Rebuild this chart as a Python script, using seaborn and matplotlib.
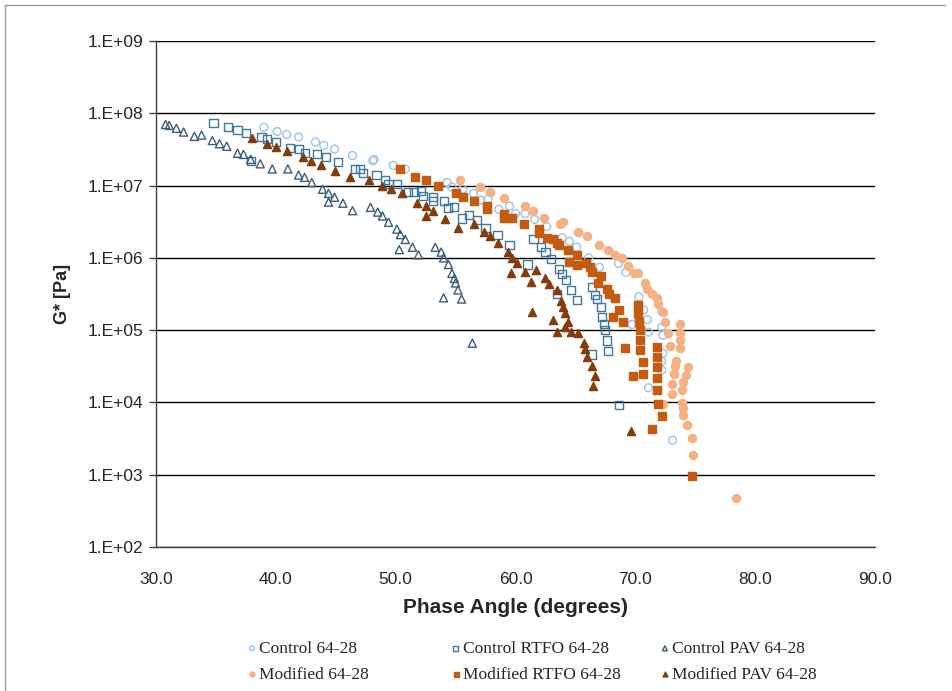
import numpy as np
import pandas as pd
import matplotlib
matplotlib.use("Agg")
import matplotlib.pyplot as plt
from matplotlib.lines import Line2D
import seaborn as sns

# ---------------- data (phase angle in degrees, G* in Pa) ----------------
ctrl_x = [39.0, 40.1, 40.9, 41.9, 43.3, 44.0, 44.9, 46.4, 48.1, 48.2, 49.8, 50.8,
          54.3, 54.7, 55.6, 56.5, 57.1, 57.7, 58.6, 59.5, 60.0, 60.8, 61.6, 62.6,
          63.9, 64.5, 65.1, 66.1, 67.0, 68.6, 69.2, 70.3, 70.7, 71.0, 69.7, 71.1,
          72.2, 72.2, 72.3, 72.3, 72.2, 72.2, 71.1, 73.1]
ctrl_g = [6.4e7, 5.6e7, 5.1e7, 4.7e7, 4.0e7, 3.6e7, 3.2e7, 2.6e7, 2.2e7, 2.3e7, 1.9e7, 1.7e7,
          1.1e7, 9.5e6, 8.9e6, 7.8e6, 6.3e6, 6.5e6, 4.7e6, 5.2e6, 4.1e6, 4.1e6, 3.4e6, 2.7e6,
          1.9e6, 1.7e6, 1.4e6, 1.0e6, 7.4e5, 8.4e5, 6.3e5, 2.9e5, 1.9e5, 1.4e5, 1.2e5, 9.4e4,
          1.8e5, 1.1e5, 8.5e4, 4.8e4, 3.7e4, 2.8e4, 1.6e4, 3.0e3]

ctrl_rtfo_x = [34.8, 36.0, 36.8, 37.5, 37.9, 38.8, 39.3, 40.0, 41.2, 41.9, 42.4, 43.4,
               44.2, 45.2, 46.6, 47.0, 47.3, 48.4, 49.1, 49.4, 50.1, 51.0, 51.5, 52.1,
               52.3, 53.1, 53.1, 54.0, 54.4, 54.9, 55.5, 56.1, 56.8, 57.5, 58.5, 59.5,
               61.0, 61.5, 62.1, 62.5, 63.0, 63.5, 63.6, 63.9, 64.2, 64.6, 65.1, 66.4,
               66.6, 66.8, 67.1, 67.2, 67.4, 67.5, 67.6, 67.7, 66.4, 68.6]
ctrl_rtfo_g = [7.3e7, 6.4e7, 5.8e7, 5.3e7, 2.2e7, 4.7e7, 4.4e7, 4.0e7, 3.3e7, 3.2e7, 2.8e7, 2.7e7,
               2.5e7, 2.1e7, 1.7e7, 1.7e7, 1.5e7, 1.4e7, 1.2e7, 1.04e7, 1.04e7, 8.1e6, 8.1e6, 8.3e6,
               7.1e6, 6.9e6, 6.1e6, 6.1e6, 4.9e6, 5.0e6, 3.5e6, 3.9e6, 3.3e6, 2.6e6, 2.1e6, 1.5e6,
               8.1e5, 1.8e6, 1.4e6, 1.2e6, 9.6e5, 3.2e5, 7.0e5, 5.9e5, 4.9e5, 3.6e5, 2.6e5, 4.0e5,
               3.1e5, 2.7e5, 2.1e5, 1.5e5, 1.2e5, 1.0e5, 7.2e4, 5.1e4, 4.6e4, 9.1e3]

ctrl_pav_x = [30.8, 31.1, 31.7, 32.3, 33.2, 33.8, 34.7, 35.3, 35.9, 36.8, 37.3, 37.9,
              38.7, 39.7, 41.0, 41.9, 42.4, 43.0, 43.9, 44.4, 44.4, 44.9, 45.6, 46.4,
              47.9, 48.5, 48.9, 49.4, 50.1, 50.4, 50.8, 50.3, 51.4, 51.9, 53.3, 53.8,
              54.0, 54.4, 54.7, 54.9, 55.0, 55.2, 54.0, 55.5, 56.4]
ctrl_pav_g = [7.0e7, 6.8e7, 6.2e7, 5.5e7, 4.8e7, 5.0e7, 4.2e7, 3.8e7, 3.5e7, 2.8e7, 2.7e7, 2.3e7,
              2.0e7, 1.7e7, 1.7e7, 1.4e7, 1.3e7, 1.1e7, 8.9e6, 7.8e6, 5.9e6, 6.9e6, 5.7e6, 4.5e6,
              5.0e6, 4.3e6, 3.8e6, 3.1e6, 2.5e6, 2.1e6, 1.8e6, 1.3e6, 1.4e6, 1.1e6, 1.4e6, 1.2e6,
              1.0e6, 8.1e5, 6.1e5, 5.2e5, 4.5e5, 3.6e5, 2.8e5, 2.7e5, 6.6e4]

mod_x = [55.4, 57.0, 57.9, 59.0, 60.8, 61.5, 62.4, 63.7, 64.0, 65.2, 66.0, 67.0,
         67.7, 68.3, 68.9, 69.4, 69.9, 70.2, 70.8, 71.0, 71.4, 71.8, 71.9, 72.3,
         72.5, 72.7, 73.7, 73.7, 73.7, 73.7, 72.9, 73.4, 73.3, 73.2, 73.1, 73.1,
         72.3, 74.4, 74.2, 74.0, 73.9, 73.9, 74.0, 74.0, 74.3, 74.7, 74.8, 78.4]
mod_g = [1.2e7, 9.5e6, 8.1e6, 6.7e6, 5.2e6, 4.4e6, 3.6e6, 2.9e6, 3.1e6, 2.3e6, 2.0e6, 1.5e6,
         1.3e6, 1.1e6, 9.9e5, 7.7e5, 6.1e5, 6.1e5, 4.5e5, 3.7e5, 3.2e5, 2.8e5, 2.3e5, 1.8e5,
         1.3e5, 9.1e4, 1.2e5, 9.1e4, 7.2e4, 5.6e4, 6.0e4, 3.8e4, 3.2e4, 2.5e4, 1.8e4, 1.3e4,
         9.4e3, 3.1e4, 2.4e4, 1.9e4, 1.5e4, 9.8e3, 8.3e3, 6.7e3, 4.8e3, 3.2e3, 1.9e3, 4.7e2]

mod_rtfo_x = [50.4, 51.6, 52.5, 53.5, 55.0, 55.6, 56.5, 57.6, 57.6, 59.0, 59.0, 59.7,
              60.7, 62.0, 62.0, 62.6, 63.1, 63.5, 63.6, 64.4, 65.1, 64.5, 65.1, 65.9,
              66.2, 66.4, 67.1, 66.9, 67.6, 67.8, 68.3, 68.6, 68.1, 69.0, 70.2, 70.2,
              70.3, 70.4, 70.4, 70.4, 69.1, 70.6, 70.6, 69.8, 71.8, 71.8, 71.8, 71.8,
              71.8, 71.9, 72.2, 71.4, 74.7]
mod_rtfo_g = [1.7e7, 1.3e7, 1.2e7, 1.0e7, 7.8e6, 6.9e6, 6.1e6, 5.3e6, 4.7e6, 4.1e6, 3.6e6, 3.6e6,
              2.9e6, 2.5e6, 2.2e6, 1.9e6, 1.8e6, 1.6e6, 1.5e6, 1.3e6, 1.1e6, 8.7e5, 7.9e5, 8.4e5,
              7.4e5, 6.3e5, 5.6e5, 4.5e5, 3.7e5, 3.2e5, 2.8e5, 1.9e5, 1.5e5, 1.3e5, 2.2e5, 1.7e5,
              1.3e5, 1.0e5, 7.2e4, 5.3e4, 5.6e4, 3.6e4, 2.5e4, 2.3e4, 5.8e4, 4.2e4, 3.1e4, 2.2e4,
              1.5e4, 9.4e3, 6.4e3, 4.3e3, 9.5e2]

mod_pav_x = [38.0, 39.3, 40.0, 40.9, 42.3, 42.9, 43.8, 44.9, 46.2, 47.8, 48.9, 49.6,
             50.5, 51.8, 52.5, 53.1, 52.5, 54.1, 55.2, 56.5, 57.4, 57.9, 58.5, 59.4,
             59.7, 60.1, 59.6, 60.8, 61.7, 61.3, 62.5, 62.8, 63.5, 63.8, 64.0, 64.1,
             64.4, 63.1, 61.4, 63.5, 64.1, 64.6, 65.2, 65.7, 65.8, 66.0, 66.4, 66.6,
             66.5, 69.6]
mod_pav_g = [4.5e7, 3.8e7, 3.4e7, 3.0e7, 2.5e7, 2.2e7, 1.9e7, 1.6e7, 1.3e7, 1.2e7, 1.0e7, 8.9e6,
             7.8e6, 5.7e6, 5.2e6, 4.4e6, 3.8e6, 3.4e6, 2.6e6, 2.9e6, 2.3e6, 2.0e6, 1.6e6, 1.2e6,
             1.0e6, 8.4e5, 6.1e5, 6.3e5, 6.7e5, 4.6e5, 5.2e5, 4.3e5, 3.6e5, 2.5e5, 2.1e5, 1.7e5,
             1.3e5, 1.4e5, 1.8e5, 9.4e4, 1.1e5, 9.4e4, 9.1e4, 6.6e4, 5.4e4, 4.2e4, 3.2e4, 2.3e4,
             1.7e4, 4.0e3]

series_names = ["Control 64-28", "Control RTFO 64-28", "Control PAV 64-28",
                "Modified 64-28", "Modified RTFO 64-28", "Modified PAV 64-28"]
x_ticks = [30, 40, 50, 60, 70, 80, 90]
x_tick_labels = ["30.0", "40.0", "50.0", "60.0", "70.0", "80.0", "90.0"]
y_ticks = [1e2, 1e3, 1e4, 1e5, 1e6, 1e7, 1e8, 1e9]
y_tick_labels = ["1.E+02", "1.E+03", "1.E+04", "1.E+05", "1.E+06", "1.E+07", "1.E+08", "1.E+09"]

# ---------------- build long table ----------------
xs = [ctrl_x, ctrl_rtfo_x, ctrl_pav_x, mod_x, mod_rtfo_x, mod_pav_x]
gs = [ctrl_g, ctrl_rtfo_g, ctrl_pav_g, mod_g, mod_rtfo_g, mod_pav_g]
frames = []
for name, x, g in zip(series_names, xs, gs):
    frames.append(pd.DataFrame({"phase": x, "G": g, "series": name}))
df = pd.concat(frames, ignore_index=True)

styles = {
    "Control 64-28":       dict(marker="o", fc="none",    ec="#9dc3e6", s=32),
    "Control RTFO 64-28":  dict(marker="s", fc="none",    ec="#3f77a0", s=34),
    "Control PAV 64-28":   dict(marker="^", fc="none",    ec="#3e5c78", s=34),
    "Modified 64-28":      dict(marker="o", fc="#f4b183", ec="#f4b183", s=34),
    "Modified RTFO 64-28": dict(marker="s", fc="#c55a11", ec="#c55a11", s=36),
    "Modified PAV 64-28":  dict(marker="^", fc="#843c0c", ec="#843c0c", s=34),
}

sns.set_theme(style="white")
plt.rcParams["font.family"] = ["Liberation Sans", "DejaVu Sans"]

fig = plt.figure(figsize=(9.52, 6.91), dpi=100)
ax = fig.add_axes([156 / 952, 1 - 547 / 691, (875 - 156) / 952, (547 - 41) / 691])

for name in series_names:
    st = styles[name]
    sub = df[df["series"] == name]
    sns.scatterplot(data=sub, x="phase", y="G", marker=st["marker"],
                    facecolor=st["fc"], edgecolor=st["ec"], linewidth=1.0,
                    s=st["s"], ax=ax, label=name, zorder=3)

ax.set_yscale("log")
ax.set_xlim(30, 90)
ax.set_ylim(1e2, 1e9)
ax.set_xticks(x_ticks)
ax.set_xticklabels(x_tick_labels, fontsize=12.5)
ax.set_yticks(y_ticks)
ax.set_yticklabels(y_tick_labels, fontsize=12.5)
ax.minorticks_off()
ax.yaxis.grid(True, color="black", linewidth=1.0)
ax.xaxis.grid(False)
ax.set_axisbelow(True)
for sp in ["top", "right"]:
    ax.spines[sp].set_visible(False)
ax.spines["left"].set_color("#404040")
ax.spines["left"].set_linewidth(1.0)
ax.spines["bottom"].set_color("#404040")
ax.spines["bottom"].set_linewidth(1.0)
ax.tick_params(axis="y", which="major", left=True, length=5, width=1, color="#404040", pad=4)
ax.tick_params(axis="x", which="major", bottom=False, pad=12)

ax.set_xlabel("Phase Angle (degrees)", fontsize=15, fontweight="bold", labelpad=8)
ax.set_ylabel("G* [Pa]", fontsize=13, fontweight="bold", labelpad=12)

handles, labels = ax.get_legend_handles_labels()
ax.get_legend().remove()
# legend laid out as three columns of two rows, like the reference
col_members = [[0, 3], [1, 4], [2, 5]]
col_anchor_x = [238 / 952, 442 / 952, 651 / 952]
for members, xa in zip(col_members, col_anchor_x):
    fig.legend([handles[i] for i in members], [labels[i] for i in members],
               loc="center left", bbox_to_anchor=(xa, 0.0425), ncol=1,
               frameon=False, markerscale=0.6, handlelength=0.8,
               handletextpad=0.0, labelspacing=0.55, borderaxespad=0.0,
               prop={"family": "Liberation Serif", "size": 12.5})

# outer chart frame (top and left edges visible)
fig.add_artist(Line2D([5 / 952, 945 / 952], [1 - 5 / 691, 1 - 5 / 691],
                      transform=fig.transFigure, color="#9a9a9a", linewidth=1.0))
fig.add_artist(Line2D([5 / 952, 5 / 952], [0, 1 - 5 / 691],
                      transform=fig.transFigure, color="#9a9a9a", linewidth=1.0))

fig.savefig("out.png", dpi=100)
